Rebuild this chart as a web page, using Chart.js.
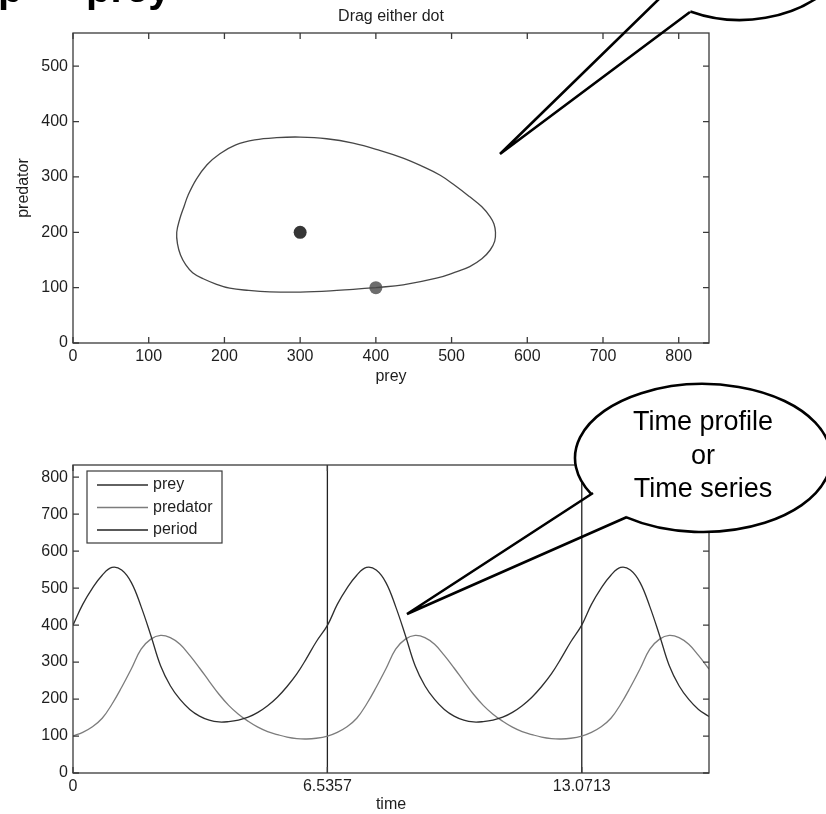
<!DOCTYPE html>
<html><head><meta charset="utf-8">
<script src="https://cdn.jsdelivr.net/npm/chart.js@4.4.0/dist/chart.umd.min.js"></script>
<style>
html,body{margin:0;padding:0;background:#fff;width:826px;height:814px;overflow:hidden;}
#c1{position:absolute;left:0;top:0;}
#c2{position:absolute;left:0;top:420px;}
#ov{position:absolute;left:0;top:0;pointer-events:none;}
</style></head><body>
<canvas id="c1" width="826" height="400"></canvas>
<canvas id="c2" width="826" height="394"></canvas>
<canvas id="ov" width="826" height="814"></canvas>
<script>
// ---------- data ----------
// phase plane: closed orbit (prey, predator)
const orbitPrey = [400,436,480,505,524,540,551,557,558,556,551,540,524,505,485,460,436,405,370,335,300,269,240,215,194,177,163,152,147,141,137,138,142,149,158,172,188,207,232,260,300,340,370,400];
const orbitPred = [100,105,117,128,138,152,168,184,200,215,228,246,264,284,303,320,334,348,361,369,372,371,367,358,342,322,296,267,248,224,200,179,159,141,127,116,107,99,95,92.5,92,94,97,100];
const equilibrium = [300, 200];
const initialPoint = [400, 100];
const phaseXTicks = [0,100,200,300,400,500,600,700,800];
const phaseYTicks = [0,100,200,300,400,500];
const phaseXMax = 840, phaseYMax = 560;

// time profile
const time = [0,0.25,0.5,0.75,1.0,1.25,1.5,1.75,2.0,2.25,2.5,2.75,3.0,3.25,3.5,3.75,4.0,4.25,4.5,4.75,5.0,5.25,5.5,5.75,6.0,6.25,
  6.54,6.79,7.04,7.29,7.54,7.79,8.04,8.29,8.54,8.79,9.04,9.29,9.54,9.79,10.04,10.29,10.54,10.79,11.04,11.29,11.54,11.79,12.04,12.29,12.54,12.79,
  13.07,13.32,13.57,13.82,14.07,14.32,14.57,14.82,15.07,15.32,15.57,15.82,16.07,16.32,16.34];
const prey = [400,456,500,535,556,549,515,450,372,290,236,199,172,154,143,138,139,143,151,164,182,205,234,268,310,355,
  400,456,500,535,556,549,515,450,372,290,236,199,172,154,143,138,139,143,151,164,182,205,234,268,310,355,
  400,456,500,535,556,549,515,450,372,290,236,199,172,154,153];
const predator = [100,110,125,148,186,232,282,335,362,372,366,348,318,284,248,213,183,159,140,124,112,104,97,93,92,94,
  100,110,125,148,186,232,282,335,362,372,366,348,318,284,248,213,183,159,140,124,112,104,97,93,92,94,
  100,110,125,148,186,232,282,335,362,372,366,348,318,284,281];
const periodTimes = [6.5357, 13.0713];
const timeXTicks = [0, 6.5357, 13.0713];
const timeXTickLabels = ['0','6.5357','13.0713'];
const timeYTicks = [0,100,200,300,400,500,600,700,800];
const timeXMax = 16.34, timeYMax = 833;

// ---------- helpers ----------
const FONT = '"Liberation Sans", Arial, sans-serif';
const TXT = '#1e1e1e';
const AX = '#3a3a3a';

const matlabBox = {
  id: 'matlabBox',
  afterDatasetsDraw(chart) {
    const {ctx, chartArea: a, scales: {x, y}} = chart;
    ctx.save();
    ctx.strokeStyle = AX; ctx.lineWidth = 1.3;
    ctx.strokeRect(a.left, a.top, a.right - a.left, a.bottom - a.top);
    const L = 6;
    ctx.beginPath();
    x.ticks.forEach(t => {
      const px = x.getPixelForValue(t.value);
      ctx.moveTo(px, a.bottom); ctx.lineTo(px, a.bottom - L);
      ctx.moveTo(px, a.top); ctx.lineTo(px, a.top + L);
    });
    y.ticks.forEach(t => {
      const py = y.getPixelForValue(t.value);
      ctx.moveTo(a.left, py); ctx.lineTo(a.left + L, py);
      ctx.moveTo(a.right, py); ctx.lineTo(a.right - L, py);
    });
    ctx.stroke();
    ctx.restore();
  }
};

const boxLegend = {
  id: 'boxLegend',
  afterDraw(chart) {
    const {ctx, chartArea: a} = chart;
    const ds = chart.data.datasets;
    ctx.save();
    const bx = a.left + 14, by = a.top + 6, bw = 135, bh = 72;
    ctx.fillStyle = '#fff';
    ctx.fillRect(bx, by, bw, bh);
    ctx.strokeStyle = AX; ctx.lineWidth = 1.2;
    ctx.strokeRect(bx, by, bw, bh);
    ctx.font = '16px ' + FONT;
    ctx.textBaseline = 'middle';
    ds.forEach((d, i) => {
      const yy = by + 14 + i * 22.5;
      ctx.strokeStyle = d.borderColor; ctx.lineWidth = 1.3;
      ctx.beginPath(); ctx.moveTo(bx + 10, yy); ctx.lineTo(bx + 61, yy); ctx.stroke();
      ctx.fillStyle = TXT;
      ctx.fillText(d.label, bx + 66, yy);
    });
    ctx.restore();
  }
};

function fixedTicks(values) {
  return function(scale) { scale.ticks = values.map(v => ({value: v})); };
}

// ---------- phase plane chart ----------
new Chart(document.getElementById('c1'), {
  type: 'scatter',
  data: {
    datasets: [
      { label: 'orbit', data: orbitPrey.map((p, i) => ({x: p, y: orbitPred[i]})), showLine: true,
        borderColor: '#474747', borderWidth: 1.3, pointRadius: 0, tension: 0.4, fill: false },
      { label: 'equilibrium', data: [{x: equilibrium[0], y: equilibrium[1]}], pointRadius: 6.5,
        backgroundColor: '#363636', borderColor: '#363636', borderWidth: 0 },
      { label: 'initial', data: [{x: initialPoint[0], y: initialPoint[1]}], pointRadius: 6.5,
        backgroundColor: '#6d6d6d', borderColor: '#6d6d6d', borderWidth: 0 }
    ]
  },
  options: {
    responsive: false, animation: false, events: [],
    layout: { padding: { left: 0, right: 117, top: 0, bottom: 0 } },
    plugins: {
      legend: { display: false }, tooltip: { enabled: false },
      title: { display: true, text: 'Drag either dot', fullSize: false, color: TXT,
        font: { family: FONT, size: 16, weight: 'normal', lineHeight: 1.2 }, padding: { top: 7, bottom: 6.8 } }
    },
    scales: {
      x: { type: 'linear', min: 0, max: phaseXMax,
        afterBuildTicks: fixedTicks(phaseXTicks),
        afterFit: s => { s.height = 57; },
        grid: { display: false, drawTicks: false }, border: { display: false },
        ticks: { color: TXT, font: { family: FONT, size: 16 }, padding: 4, maxRotation: 0, autoSkip: false },
        title: { display: true, text: 'prey', color: TXT, font: { family: FONT, size: 16, lineHeight: 1.2 }, padding: { top: 0, bottom: 13.4 } } },
      y: { type: 'linear', min: 0, max: phaseYMax,
        afterBuildTicks: fixedTicks(phaseYTicks),
        afterFit: s => { s.width = 73; },
        grid: { display: false, drawTicks: false }, border: { display: false },
        ticks: { color: TXT, font: { family: FONT, size: 16 }, padding: 5, autoSkip: false },
        title: { display: true, text: 'predator', color: TXT, font: { family: FONT, size: 16, lineHeight: 1.2 }, padding: { top: 14.4, bottom: 0 } } }
    }
  },
  plugins: [matlabBox]
});

// ---------- time profile chart ----------
const periodData = [];
periodTimes.forEach((t, i) => {
  if (i > 0) periodData.push({x: t, y: null});
  if (i % 2 === 0) { periodData.push({x: t, y: 0}); periodData.push({x: t, y: timeYMax}); }
  else { periodData.push({x: t, y: timeYMax}); periodData.push({x: t, y: 0}); }
});

new Chart(document.getElementById('c2'), {
  type: 'line',
  data: {
    datasets: [
      { label: 'prey', data: time.map((t, i) => ({x: t, y: prey[i]})), borderColor: '#2e2e2e',
        borderWidth: 1.3, pointRadius: 0, tension: 0.4, fill: false },
      { label: 'predator', data: time.map((t, i) => ({x: t, y: predator[i]})), borderColor: '#7c7c7c',
        borderWidth: 1.3, pointRadius: 0, tension: 0.4, fill: false },
      { label: 'period', data: periodData, borderColor: '#222222', borderWidth: 1.3, pointRadius: 0,
        spanGaps: false, fill: false, tension: 0 }
    ]
  },
  options: {
    responsive: false, animation: false, events: [],
    layout: { padding: { left: 0, right: 117, top: 45, bottom: 0 } },
    plugins: { legend: { display: false }, tooltip: { enabled: false } },
    scales: {
      x: { type: 'linear', min: 0, max: timeXMax,
        afterBuildTicks: fixedTicks(timeXTicks),
        afterFit: s => { s.height = 41; },
        grid: { display: false, drawTicks: false }, border: { display: false },
        ticks: { color: TXT, font: { family: FONT, size: 16 }, padding: 4, maxRotation: 0, autoSkip: false,
          callback: (v, i) => timeXTickLabels[i] },
        title: { display: true, text: 'time', color: TXT, font: { family: FONT, size: 16, lineHeight: 1.2 }, padding: { top: 0, bottom: 0 } } },
      y: { type: 'linear', min: 0, max: timeYMax,
        afterBuildTicks: fixedTicks(timeYTicks),
        afterFit: s => { s.width = 73; },
        grid: { display: false, drawTicks: false }, border: { display: false },
        ticks: { color: TXT, font: { family: FONT, size: 16 }, padding: 5, autoSkip: false } }
    }
  },
  plugins: [matlabBox, boxLegend]
});

// ---------- overlay: slide title fragment and callouts ----------
(function() {
  const ov = document.getElementById('ov');
  const ctx = ov.getContext('2d');
  // slide title (cut off at top edge)
  ctx.fillStyle = '#000';
  ctx.font = 'bold 40px ' + FONT;
  ctx.textBaseline = 'alphabetic';
  ctx.fillText('p', -2, 2);
  ctx.fillText('prey', 86, 2);

  function callout(cx, cy, rx, ry, tip, b1, b2, lines, fontPx, lineGap, textY) {
    const a1 = Math.atan2((b1[1] - cy) / ry, (b1[0] - cx) / rx);
    const a2 = Math.atan2((b2[1] - cy) / ry, (b2[0] - cx) / rx);
    ctx.save();
    ctx.fillStyle = '#fff';
    ctx.beginPath(); ctx.ellipse(cx, cy, rx, ry, 0, 0, Math.PI * 2); ctx.fill();
    ctx.strokeStyle = '#000'; ctx.lineWidth = 2.6; ctx.lineJoin = 'miter';
    ctx.beginPath(); ctx.ellipse(cx, cy, rx, ry, 0, a1, a2, false); ctx.stroke();
    ctx.beginPath(); ctx.moveTo(b1[0], b1[1]); ctx.lineTo(tip[0], tip[1]); ctx.lineTo(b2[0], b2[1]); ctx.stroke();
    if (lines) {
      ctx.fillStyle = '#000';
      ctx.font = fontPx + 'px ' + FONT;
      ctx.textAlign = 'center'; ctx.textBaseline = 'alphabetic';
      lines.forEach((s, i) => ctx.fillText(s, cx, textY + i * lineGap));
    }
    ctx.restore();
  }
  callout(740, -75, 120, 95, [500, 154], [661, -3], [690, 12], null);
  callout(703, 458, 128, 74, [407, 614], [593, 493], [627, 517], ['Time profile', 'or', 'Time series'], 27, 33.5, 430);
})();
</script></body></html>
